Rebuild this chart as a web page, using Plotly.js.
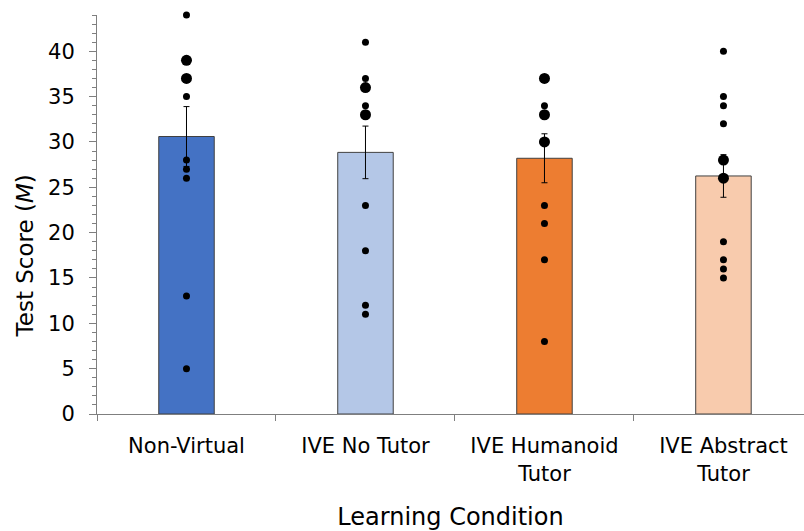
<!DOCTYPE html>
<html>
<head>
<meta charset="utf-8">
<script src="https://cdn.plot.ly/plotly-3.0.1.min.js"></script>
<style>html,body{margin:0;padding:0;background:#fff;}#chart{width:804px;height:531px;}</style>
</head>
<body>
<div id="chart"></div>
<script>
const categories = ["Non-Virtual", "IVE No Tutor", "IVE Humanoid<br>Tutor", "IVE Abstract<br>Tutor"];
const means = [30.6, 28.85, 28.2, 26.25];
const errors = [3.3, 2.9, 2.7, 2.35];
const barColors = ["#4472C4", "#B4C7E7", "#ED7D31", "#F8CBAD"];
const yTitle = "Test Score (<i>M</i>)";
const xTitle = "Learning Condition";

// individual scores per condition; weight 2 = two overlapping participants (larger dot)
const nonVirtualScores = [44, 39, 37, 35, 28, 27, 26, 13, 5];
const nonVirtualWeights = [1, 2, 2, 1, 1, 1, 1, 1, 1];
const noTutorScores = [41, 37, 36, 34, 33, 23, 18, 12, 11];
const noTutorWeights = [1, 1, 2, 1, 2, 1, 1, 1, 1];
const humanoidScores = [37, 34, 33, 30, 23, 21, 17, 8];
const humanoidWeights = [2, 1, 2, 2, 1, 1, 1, 1];
const abstractScores = [40, 35, 34, 32, 28, 26, 19, 17, 16, 15];
const abstractWeights = [1, 1, 1, 1, 2, 2, 1, 1, 1, 1];

const scoreSets = [nonVirtualScores, noTutorScores, humanoidScores, abstractScores];
const weightSets = [nonVirtualWeights, noTutorWeights, humanoidWeights, abstractWeights];

const dotX = [], dotY = [], dotSize = [];
scoreSets.forEach((s, i) => {
  s.forEach((v, j) => {
    dotX.push(categories[i]);
    dotY.push(v);
    dotSize.push(weightSets[i][j] > 1 ? 11 : 7);
  });
});

const traces = [
  {
    type: "bar",
    x: categories,
    y: means,
    width: 0.31,
    marker: { color: barColors, line: { color: "#404040", width: 1 } },
    error_y: { type: "data", array: errors, visible: true, color: "#000000", thickness: 1, width: 3 },
    hoverinfo: "none"
  },
  {
    type: "scatter",
    mode: "markers",
    x: dotX,
    y: dotY,
    cliponaxis: false,
    marker: { color: "#000000", size: dotSize, opacity: 1, line: { width: 0 } },
    hoverinfo: "none"
  }
];

const fontFam = "DejaVu Sans, Verdana, sans-serif";

const layout = {
  width: 804,
  height: 531,
  margin: { l: 97, r: 0, t: 15, b: 117 },
  paper_bgcolor: "#ffffff",
  plot_bgcolor: "#ffffff",
  showlegend: false,
  font: { family: fontFam, color: "#000000", size: 21 },
  xaxis: {
    type: "category",
    range: [-0.5, 3.45],
    showline: true,
    linecolor: "#7f7f7f",
    linewidth: 1,
    ticks: "outside",
    tickson: "boundaries",
    ticklen: 6,
    tickcolor: "#7f7f7f",
    showgrid: false,
    zeroline: false,
    tickfont: { size: 21 },
    ticklabelstandoff: 13,
    title: { text: xTitle, font: { size: 24 }, standoff: 28 }
  },
  yaxis: {
    range: [0, 44],
    showline: true,
    linecolor: "#7f7f7f",
    linewidth: 1,
    ticks: "outside",
    ticklen: 7,
    tickcolor: "#7f7f7f",
    dtick: 5,
    tick0: 0,
    showgrid: false,
    zeroline: false,
    tickfont: { size: 21 },
    ticklabelstandoff: 10,
    minor: { dtick: 1, ticks: "outside", ticklen: 4, tickcolor: "#7f7f7f", showgrid: false }
  },
  annotations: [
    {
      text: yTitle,
      xref: "paper", yref: "paper",
      x: 0, y: 0.395,
      xanchor: "center", yanchor: "middle",
      xshift: -72,
      textangle: -90,
      showarrow: false,
      font: { size: 23, family: fontFam, color: "#000000" }
    }
  ]
};

Plotly.newPlot("chart", traces, layout, { staticPlot: true, displayModeBar: false });
</script>
</body>
</html>
